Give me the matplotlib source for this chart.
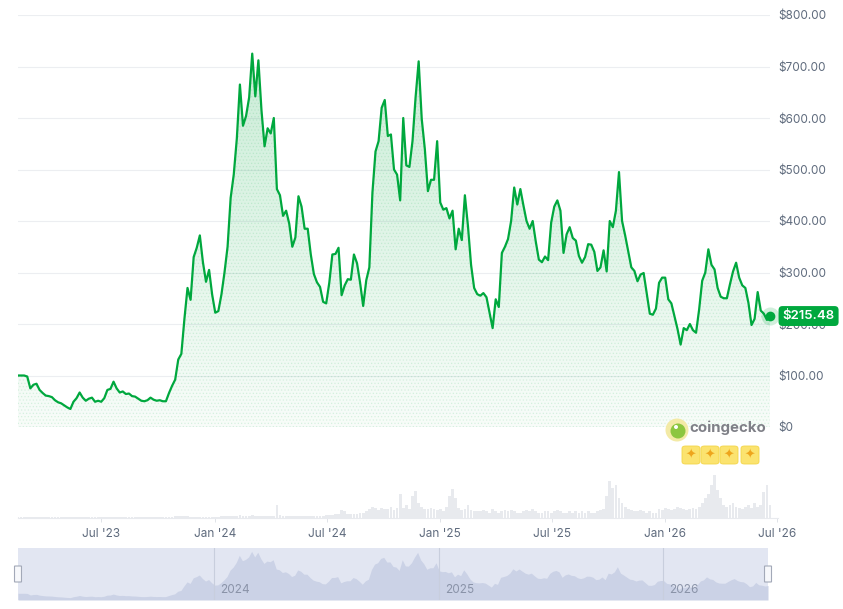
import numpy as np
import pandas as pd
import matplotlib
matplotlib.use("Agg")
import matplotlib.pyplot as plt
import matplotlib.dates as mdates
from matplotlib.patches import FancyBboxPatch, Ellipse

plt.rcParams['font.family'] = ['Inter', 'DejaVu Sans']

# ---------------- data ----------------
start_date = '2023-02-16'
step_days = 5

prices = [
    100, 100, 100, 98, 75, 82, 84, 72, 66, 61,
    60, 58, 52, 48, 46, 42, 38, 35, 49, 56,
    67, 57, 51, 55, 57, 49, 51, 49, 56, 72,
    74, 88, 75, 67, 69, 64, 65, 60, 59, 55,
    51, 50, 52, 57, 53, 51, 52, 50, 50, 66,
    80, 92, 131, 142, 210, 270, 247, 330, 348, 372,
    320, 282, 305, 257, 222, 225, 257, 300, 350, 445,
    490, 560, 665, 585, 604, 640, 725, 642, 712, 615,
    545, 580, 570, 600, 462, 450, 410, 420, 395, 350,
    368, 448, 428, 385, 385, 335, 297, 281, 272, 243,
    240, 280, 335, 336, 348, 256, 275, 287, 286, 335,
    318, 280, 235, 285, 310, 455, 535, 555, 620, 635,
    565, 568, 500, 490, 440, 600, 508, 505, 555, 640,
    710, 598, 540, 458, 480, 480, 555, 436, 422, 425,
    405, 420, 345, 385, 363, 450, 390, 315, 270, 258,
    255, 260, 252, 222, 192, 248, 233, 338, 350, 365,
    400, 465, 432, 462, 430, 400, 385, 400, 360, 325,
    320, 331, 324, 397, 428, 440, 420, 338, 374, 388,
    367, 362, 332, 319, 330, 355, 354, 340, 303, 310,
    343, 302, 400, 388, 420, 495, 400, 372, 341, 310,
    303, 283, 296, 299, 260, 220, 218, 230, 280, 290,
    290, 248, 240, 215, 190, 160, 192, 188, 200, 188,
    183, 228, 284, 300, 345, 315, 306, 270, 253, 250,
    250, 277, 302, 319, 290, 275, 270, 241, 198, 210,
    262, 226, 220, 208, 215.48,
]

volumes = [
    0.5, 0.5, 0.5, 0.8, 0.5, 0.5, 0.5, 0.5, 0.5, 0.5,
    0.5, 0.5, 0.5, 0.5, 0.5, 0.5, 0.5, 0.5, 0.5, 0.5,
    0.5, 0.5, 0.5, 0.5, 0.5, 0.5, 0.5, 0.5, 0.5, 0.5,
    0.8, 0.8, 0.5, 0.5, 0.5, 0.5, 0.5, 0.5, 0.5, 0.5,
    0.5, 0.5, 0.5, 0.5, 0.5, 0.5, 0.5, 0.5, 0.5, 0.8,
    1, 1.5, 2, 2, 2, 1.5, 1, 1, 1, 1,
    1, 1, 1, 1, 1, 1, 1.5, 1.5, 2, 2,
    2, 2, 2.5, 2, 2, 2, 2.5, 2, 2, 2,
    2, 2, 2, 2, 12, 3, 2, 2, 2, 2,
    2, 2, 2, 2, 2, 2, 2, 2, 2, 2,
    3, 3, 3, 4, 4, 7, 6, 4, 4, 4,
    4, 5, 5, 6, 8, 10, 9, 7, 9, 8,
    8, 10, 7, 9, 22, 9, 12, 8, 20, 25,
    14, 10, 8, 8, 9, 8, 7, 8, 6, 10,
    20, 27, 18, 9, 7, 8, 12, 7, 6, 6,
    6, 7, 6, 5, 8, 6, 5, 6, 7, 6,
    7, 6, 5, 5, 6, 7, 6, 8, 6, 5,
    5, 6, 6, 5, 6, 7, 6, 5, 5, 6,
    5, 6, 5, 6, 5, 6, 5, 5, 6, 7,
    8, 20, 34, 28, 30, 18, 14, 10, 8, 7,
    6, 6, 7, 6, 5, 6, 5, 5, 8, 7,
    9, 8, 7, 8, 10, 9, 8, 7, 8, 9,
    8, 10, 14, 18, 22, 30, 40, 26, 18, 12,
    10, 12, 14, 10, 9, 8, 10, 12, 9, 14,
    10, 12, 24, 30, 12,
]

price_ticks = [0, 100, 200, 300, 400, 500, 600, 700, 800]
price_tick_labels = ['$0', '$100.00', '$200.00', '$300.00', '$400.00',
                     '$500.00', '$600.00', '$700.00', '$800.00']
x_tick_dates = ['2023-07-01', '2024-01-01', '2024-07-01', '2025-01-01',
                '2025-07-01', '2026-01-01', '2026-07-01']
x_tick_labels = ["Jul '23", "Jan '24", "Jul '24", "Jan '25",
                 "Jul '25", "Jan '26", "Jul '26"]
nav_year_dates = ['2024-01-01', '2025-01-01', '2026-01-01']
nav_year_labels = ['2024', '2025', '2026']

# ---------------- style ----------------
GREEN = '#00a83e'
GRAY_TXT = '#5f6b7d'
W, H = 843, 609
PX_PER_DAY = 0.6164
LEFT_PX = 18

dates = pd.date_range(start_date, periods=len(prices), freq=f'{step_days}D')
t0 = dates[0]
t_end = dates[-1]
span_days = (t_end - t0).days


def fx(px):
    return px / W


def fy(py):
    return 1 - py / H


fig = plt.figure(figsize=(W / 100, H / 100), dpi=100)
fig.patch.set_facecolor('white')

# ---------------- main price axes ----------------
main_w_px = span_days * PX_PER_DAY
ax = fig.add_axes([fx(LEFT_PX), fy(427), fx(main_w_px), (427 - 15) / H])
ax.set_xlim(t0, t_end)
ax.set_ylim(0, 800)
for s in ax.spines.values():
    s.set_visible(False)
ax.set_facecolor('none')
ax.set_yticks(price_ticks)
ax.set_yticklabels(price_tick_labels)
ax.yaxis.tick_right()
ax.tick_params(axis='y', length=0, pad=6, labelsize=8.5, labelcolor=GRAY_TXT)
ax.tick_params(axis='x', bottom=False, labelbottom=False)
ax.grid(axis='y', color='#eceef1', lw=0.8, zorder=0)
ax.set_axisbelow(True)

xnum = mdates.date2num(dates)
poly = ax.fill_between(dates, prices, 0, facecolor='none', edgecolor='none', zorder=1)
grad = np.zeros((256, 1, 4))
grad[..., 0] = 0.0
grad[..., 1] = 0.66
grad[..., 2] = 0.25
grad[:, 0, 3] = np.linspace(0.03, 0.21, 256)
im = ax.imshow(grad, extent=[xnum[0], xnum[-1], 0, max(prices)], origin='lower',
               aspect='auto', zorder=1, interpolation='bilinear')
im.set_clip_path(poly.get_paths()[0], transform=ax.transData)
plt.rcParams['hatch.linewidth'] = 0.6
ax.fill_between(dates, prices, 0, facecolor='none', edgecolor=(0.0, 0.66, 0.25, 0.10),
                hatch='.....', linewidth=0, zorder=1)
ax.set_xlim(t0, t_end)
ax.set_ylim(0, 800)

ax.plot(dates, prices, color=GREEN, lw=1.6, zorder=3, solid_joinstyle='round')

# end dot and price tag
ax.plot(dates[-1], prices[-1], 'o', ms=13, color=GREEN, alpha=0.18, zorder=4, clip_on=False, mew=0)
ax.plot(dates[-1], prices[-1], 'o', ms=7, color=GREEN, zorder=5, clip_on=False, mew=0)
ax.annotate(f'${prices[-1]:.2f}', xy=(dates[-1], prices[-1]), xytext=(9, 0),
            textcoords='offset points', ha='left', va='center', color='white',
            fontsize=9.5, fontweight='semibold', zorder=10,
            bbox=dict(boxstyle='round,pad=0.3,rounding_size=0.3', fc=GREEN, ec='none'),
            annotation_clip=False)

# ---------------- volume axes ----------------
vol_end = pd.Timestamp(x_tick_dates[-1]) + pd.Timedelta(days=2)
vol_w_px = (vol_end - t0).days * PX_PER_DAY
axv = fig.add_axes([fx(LEFT_PX), fy(518), fx(vol_w_px), (518 - 468) / H])
axv.set_xlim(t0, vol_end)
axv.set_ylim(0, 46)
axv.bar(dates, volumes, width=step_days * 0.9, color='#e8eaee', linewidth=0)
for k in ['top', 'left', 'right']:
    axv.spines[k].set_visible(False)
axv.spines['bottom'].set_color('#e8eaee')
axv.spines['bottom'].set_linewidth(0.8)
axv.set_yticks([])
axv.set_xticks(pd.to_datetime(x_tick_dates))
axv.set_xticklabels(x_tick_labels)
axv.tick_params(axis='x', length=3, width=0.7, color='#e0e3e8', pad=4,
                labelsize=8.5, labelcolor=GRAY_TXT)
axv.set_facecolor('none')

# ---------------- navigator ----------------
axn = fig.add_axes([fx(LEFT_PX), fy(600), fx(main_w_px - 2), (600 - 548) / H])
axn.set_xlim(t0, t_end)
axn.set_ylim(0, 775)
axn.set_facecolor('#e2e6f2')
axn.fill_between(dates, prices, 0, color='#cbd2e6', linewidth=0)
for s in axn.spines.values():
    s.set_visible(False)
axn.set_xticks([])
axn.set_yticks([])
for d, lab in zip(pd.to_datetime(nav_year_dates), nav_year_labels):
    axn.axvline(d, color='#c8cedd', lw=0.8)
    axn.annotate(lab, xy=(d, 0), xytext=(4, 3), textcoords='offset points',
                 ha='left', va='bottom', fontsize=8.5, color='#8a93a8')
for xa in (0, 1):
    r = FancyBboxPatch((xa - 3.5 / main_w_px, 0.5 - 8 / 52), 7 / main_w_px, 16 / 52,
                       boxstyle='round,pad=0,rounding_size=0.002', transform=axn.transAxes,
                       fc='#f7f8fb', ec='#a3a9b8', lw=0.8, clip_on=False, zorder=6)
    axn.add_patch(r)

# ---------------- coingecko watermark ----------------
fig.add_artist(Ellipse((fx(677), fy(430)), 23 / W, 23 / H, transform=fig.transFigure,
                       fc='#f3eaa6', ec='none', zorder=5))
fig.add_artist(Ellipse((fx(678), fy(431)), 15 / W, 15 / H, transform=fig.transFigure,
                       fc='#8cc63f', ec='none', zorder=6))
fig.add_artist(Ellipse((fx(676), fy(427)), 4 / W, 4 / H, transform=fig.transFigure,
                       fc='white', ec='none', zorder=7))
fig.text(fx(689), fy(428), 'coingecko', fontsize=10.8, fontweight='bold', color='#7f8087',
         ha='left', va='center', zorder=6)
for cx in (691, 710, 729, 750):
    fig.add_artist(FancyBboxPatch((fx(cx - 9), fy(464)), 18 / W, 18 / H,
                                  boxstyle='round,pad=0,rounding_size=0.004',
                                  transform=fig.transFigure, fc='#fbe36f', ec='#f3d548',
                                  lw=0.6, zorder=5))
    fig.text(fx(cx), fy(455), '\u2726', fontsize=9, color='#eea51c', ha='center',
             va='center', family=['DejaVu Sans'], zorder=6)

fig.savefig('out.png', dpi=100)
